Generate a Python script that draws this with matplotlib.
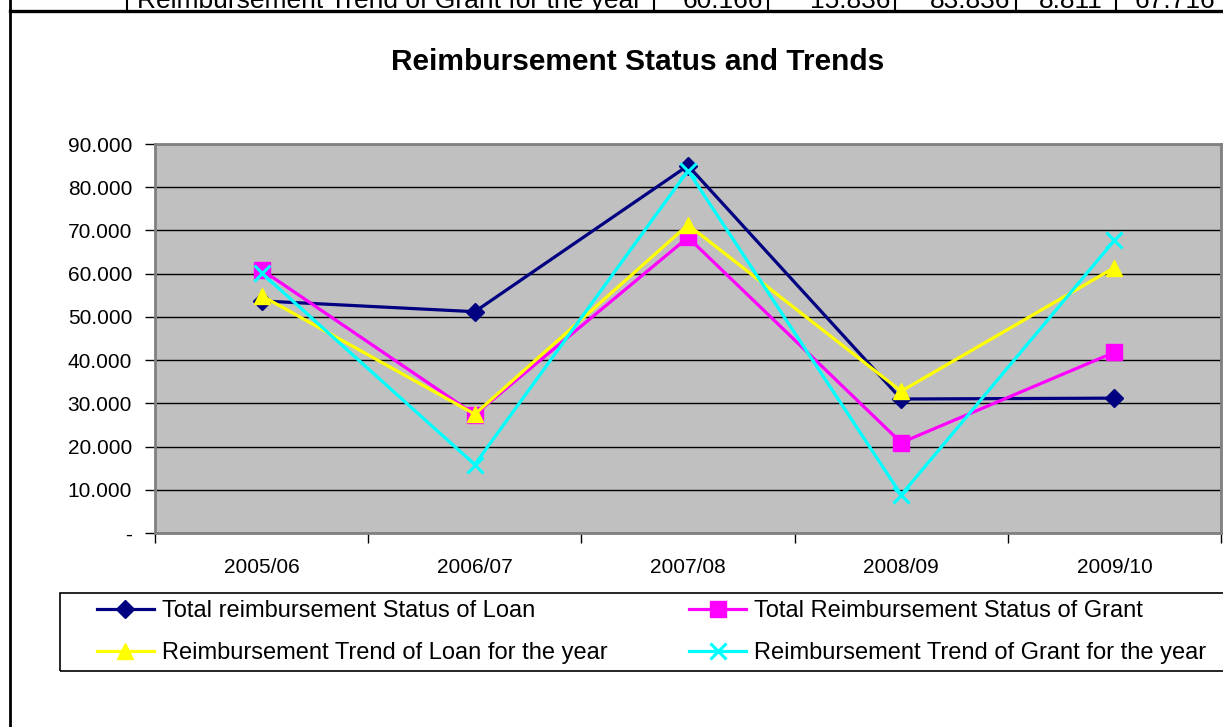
import matplotlib
matplotlib.use('Agg')
import matplotlib.pyplot as plt
from matplotlib.ticker import FuncFormatter

# Chart data
years = ['2005/06', '2006/07', '2007/08', '2008/09', '2009/10']
loan_status = [53.7, 51.2, 85.0, 31.0, 31.2]
grant_status = [60.9, 27.4, 68.4, 20.9, 41.8]
loan_trend = [54.9, 27.5, 71.3, 32.8, 61.4]
grant_trend = [60.166, 15.836, 83.836, 8.811, 67.716]

series_names = ['Total reimbursement Status of Loan',
                'Total Reimbursement Status of Grant',
                'Reimbursement Trend of Loan for the year',
                'Reimbursement Trend of Grant for the year']

# cut-off table row above the chart
row_label = 'Reimbursement Trend of Grant for the year'
row_values = ['60.166', '15.836', '83.836', '8.811', '67.716']

plt.rcParams['font.family'] = ['Liberation Sans', 'DejaVu Sans']

W, H = 1223, 727
fig = plt.figure(figsize=(W / 100, H / 100), dpi=100)

def fx(px):
    return px / W

def fy(py):
    return 1 - py / H

# table remnants at the top
fig.add_artist(plt.Line2D([fx(10), 1], [fy(11), fy(11)], color='black', lw=2.4))
fig.add_artist(plt.Line2D([fx(10), fx(10)], [1, 0], color='black', lw=2.0))
for xd in [127, 654, 768, 895, 1016, 1116]:
    fig.add_artist(plt.Line2D([fx(xd), fx(xd)], [1, fy(11)], color='black', lw=1.5))
fig.text(fx(137), fy(8), row_label, fontsize=19, va='baseline', ha='left')
for xr, v in zip([763, 890, 1010, 1103, 1215], row_values):
    fig.text(fx(xr), fy(8), v, fontsize=19, va='baseline', ha='right')

# title
fig.text(fx(638), fy(62), 'Reimbursement Status and Trends', fontsize=21.5,
         fontweight='bold', ha='center', va='center')

ax = fig.add_axes([fx(155), fy(533), fx(1221) - fx(155), fy(144) - fy(533)])
ax.set_facecolor('#C0C0C0')

x = list(range(len(years)))
h1, = ax.plot(x, loan_status, color='#000080', marker='D', ms=9, lw=2.3, label=series_names[0])
h2, = ax.plot(x, grant_status, color='#FF00FF', marker='s', ms=11, lw=2.3, label=series_names[1])
h3, = ax.plot(x, loan_trend, color='#FFFF00', marker='^', ms=12, lw=2.3, label=series_names[2])
h4, = ax.plot(x, grant_trend, color='#00FFFF', marker='x', ms=12, mew=2.2, lw=2.3, label=series_names[3])

ax.set_xlim(-0.5, len(years) - 0.5)
ax.set_ylim(0, 90)
ax.set_yticks(range(0, 100, 10))
ax.yaxis.set_major_formatter(FuncFormatter(lambda v, p: '-' if v == 0 else f'{v:.3f}'))
ax.grid(axis='y', color='black', lw=1)
ax.set_axisbelow(True)

ax.set_xticks(x)
ax.set_xticklabels(years)
ax.set_xticks([i + 0.5 for i in range(-1, len(years))], minor=True)
ax.tick_params(axis='x', which='major', length=0, pad=18, labelsize=15)
ax.tick_params(axis='x', which='minor', length=7, width=1, color='black', direction='out')
ax.tick_params(axis='y', length=7, width=1, pad=9.5, labelsize=15)

for s in ax.spines.values():
    s.set_color('#808080')
    s.set_linewidth(2)

# legend frame (open to the right edge)
fig.add_artist(plt.Rectangle((fx(60), fy(671)), fx(1200), fy(593) - fy(671),
                             fill=False, edgecolor='black', lw=1.2))
handles = [h1, h3, h2, h4]
leg = fig.legend(handles, [h.get_label() for h in handles],
                 loc='center left', ncol=2, mode='expand',
                 bbox_to_anchor=(fx(97), fy(672), fx(1206) - fx(97), fy(592) - fy(672)),
                 fontsize=17, frameon=False,
                 handlelength=2.4, handletextpad=0.34, borderpad=0,
                 labelspacing=0.85, borderaxespad=0)

fig.savefig('out.png', dpi=100)
